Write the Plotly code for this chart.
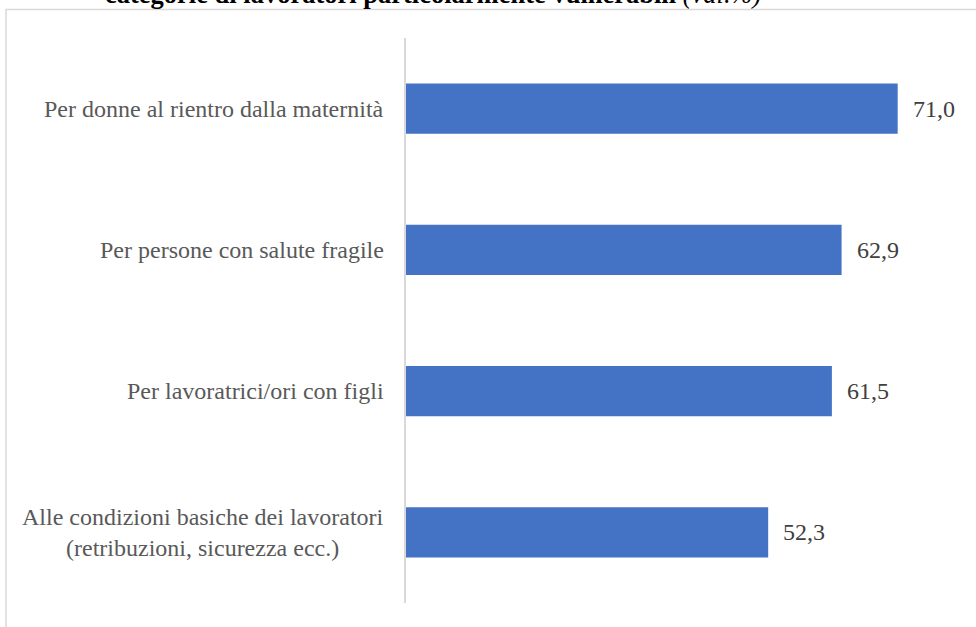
import plotly.graph_objects as go

categories = [
    "Per donne al rientro dalla maternità",
    "Per persone con salute fragile",
    "Per lavoratrici/ori con figli",
    "Alle condizioni basiche dei lavoratori<br>(retribuzioni, sicurezza ecc.)",
]
values = [71.0, 62.9, 61.5, 52.3]
value_labels = [f"{v:.1f}".replace(".", ",") for v in values]
title_text = "<b>categorie di lavoratori particolarmente vulnerabili</b> <i>(val.%)</i>"

BAR = "#4472C4"
GRAY = "#595959"
FONT = "Liberation Serif"

W, H = 976, 627
ML, MR, MT, MB = 406, 16, 38, 24
pw = W - ML - MR
ph = H - MT - MB

def px_to_paper_x(px):
    return (px - ML) / pw

def px_to_paper_y(py):
    return (H - MB - py) / ph

fig = go.Figure()
fig.add_trace(go.Bar(
    x=values, y=categories, orientation="h",
    marker=dict(color=BAR, line=dict(width=0)),
    width=0.354, hoverinfo="skip",
))

annotations = []
for c, v, t in zip(categories, values, value_labels):
    annotations.append(dict(x=v, y=c, xref="x", yref="y", text=t, showarrow=False,
                            xanchor="left", yanchor="middle", xshift=13,
                            font=dict(family=FONT, size=24, color="#404040")))
    annotations.append(dict(x=0, y=c, xref="x", yref="y", text=c, showarrow=False,
                            xanchor="right", yanchor="middle", xshift=-20, align="center",
                            font=dict(family=FONT, size=24, color=GRAY)))

annotations.append(dict(x=px_to_paper_x(433), y=px_to_paper_y(11), xref="paper", yref="paper",
                        text=title_text, showarrow=False, xanchor="center", yanchor="bottom",
                        font=dict(family=FONT, size=26.5, color="#000000")))

fig.update_layout(
    width=W, height=H,
    margin=dict(l=ML, r=MR, t=MT, b=MB, pad=0),
    paper_bgcolor="white", plot_bgcolor="white",
    showlegend=False,
    annotations=annotations,
    shapes=[dict(type="rect", xref="paper", yref="paper",
                 x0=px_to_paper_x(6), x1=px_to_paper_x(1010),
                 y0=px_to_paper_y(660), y1=px_to_paper_y(9.5),
                 line=dict(color="#d9d9d9", width=1.5), fillcolor="rgba(0,0,0,0)",
                 layer="below")],
    xaxis=dict(range=[0, 80], visible=False, showgrid=False, zeroline=False, fixedrange=True),
    yaxis=dict(categoryorder="array", categoryarray=categories, autorange="reversed",
               showticklabels=False, showgrid=False, zeroline=False, ticks="",
               showline=True, linecolor="#d9d9d9", linewidth=1.5, range=[3.5, -0.5]),
)

fig.write_html("out.html", config={"displayModeBar": False},
               post_script="document.body.style.margin='0';document.body.style.overflow='hidden';")
